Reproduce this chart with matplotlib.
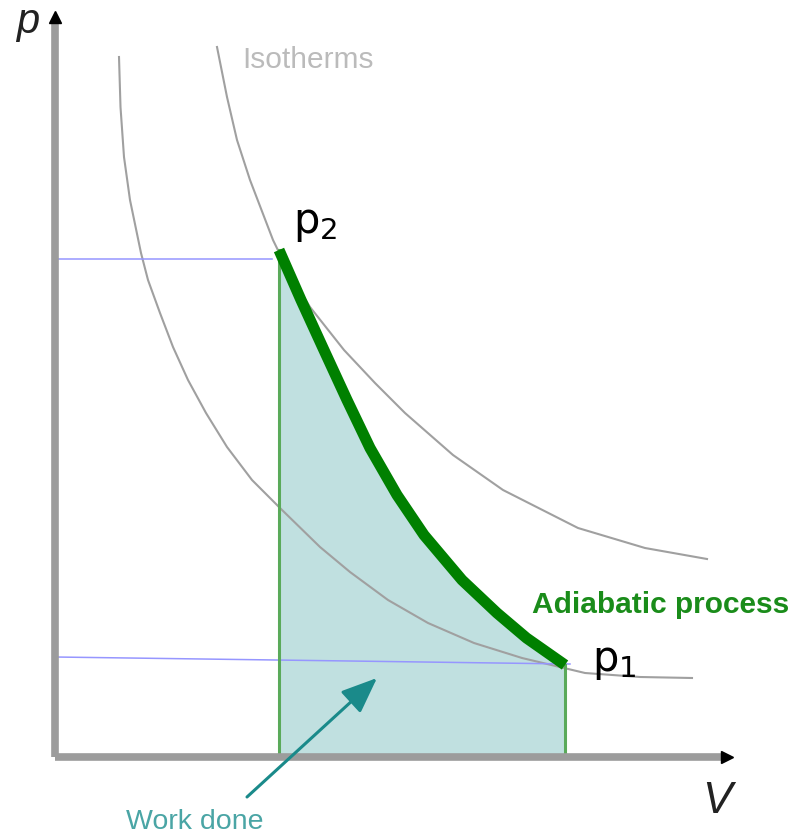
import matplotlib
matplotlib.use("Agg")
import matplotlib.pyplot as plt

plt.rcParams['mathtext.fontset'] = 'custom'
plt.rcParams['mathtext.rm'] = 'Liberation Sans'
plt.rcParams['mathtext.it'] = 'Liberation Sans:italic'

# ---- data (V, p in arbitrary units) ----
inner_iso_V = [0.64, 0.655, 0.69, 0.75, 0.86, 0.93, 1.05, 1.18, 1.33, 1.51, 1.72, 1.97,
               2.25, 2.65, 2.95, 3.33, 3.73, 4.19, 4.67, 5.30, 5.85, 6.37]
inner_iso_p = [7.00, 6.50, 6.00, 5.57, 5.04, 4.77, 4.44, 4.10, 3.77, 3.44, 3.10, 2.77,
               2.49, 2.10, 1.85, 1.57, 1.34, 1.14, 0.99, 0.84, 0.80, 0.79]

outer_iso_V = [1.62, 1.72, 1.82, 1.95, 2.18, 2.35, 2.55, 2.89, 3.20, 3.50, 3.98, 4.48,
               5.23, 5.90, 6.52]
outer_iso_p = [7.10, 6.60, 6.17, 5.77, 5.17, 4.82, 4.50, 4.07, 3.74, 3.44, 3.02, 2.67,
               2.29, 2.09, 1.98]

adiabat_V = [2.24, 2.46, 2.68, 2.92, 3.15, 3.42, 3.69, 4.07, 4.42, 4.715, 5.10]
adiabat_p = [5.07, 4.57, 4.09, 3.57, 3.09, 2.62, 2.22, 1.77, 1.44, 1.19, 0.92]

guide_p2 = 4.98
guide_p2_end = 2.17
guide_p1_left = 1.00
guide_p1_right = 0.93
guide_p1_end = 5.15

axis_V_max = 6.72
axis_p_max = 7.40

labels = {
    'p_axis': 'p', 'V_axis': 'V', 'iso': 'Isotherms',
    'adiabat': 'Adiabatic process', 'work': 'Work done',
    'p2': r'$\mathregular{p_2}$', 'p1': r'$\mathregular{p_1}$',
}

# ---- figure ----
fig = plt.figure(figsize=(7.92, 8.36), dpi=100)
ax = fig.add_axes([0, 0, 1, 1])
ax.set_xlim(-0.55, 7.37)
ax.set_ylim(-0.79, 7.57)
ax.axis('off')

# work area
ax.fill_between(adiabat_V, 0, adiabat_p, color='#c0e0e0', lw=0, zorder=1)

# isotherms
ax.plot(inner_iso_V, inner_iso_p, color='#a0a0a0', lw=1.5, zorder=2,
        solid_joinstyle='round')
ax.plot(outer_iso_V, outer_iso_p, color='#a0a0a0', lw=1.5, zorder=2,
        solid_joinstyle='round')

# guide lines
ax.plot([0, guide_p2_end], [guide_p2, guide_p2], color='#9696ff', lw=1.1, zorder=3)
ax.plot([0, guide_p1_end], [guide_p1_left, guide_p1_right], color='#9696ff', lw=1.1, zorder=3)

# verticals
ax.plot([adiabat_V[0], adiabat_V[0]], [0, adiabat_p[0]], color='#5aaa5a', lw=2.2, zorder=3)
ax.plot([adiabat_V[-1], adiabat_V[-1]], [0, adiabat_p[-1]], color='#5aaa5a', lw=2.2, zorder=3)

# adiabat
ax.plot(adiabat_V, adiabat_p, color='#008000', lw=8, solid_capstyle='butt',
        solid_joinstyle='round', zorder=4)

# axes
ax.plot([0, 0], [0, axis_p_max - 0.05], color='#9c9c9c', lw=5.5, solid_capstyle='butt', zorder=5)
ax.plot([0, axis_V_max - 0.05], [0, 0], color='#9c9c9c', lw=5.5, solid_capstyle='butt', zorder=5)
ax.plot([0], [axis_p_max], marker='^', color='black', markersize=9, zorder=6)
ax.plot([axis_V_max], [0], marker='>', color='black', markersize=9, zorder=6)

# texts
ax.text(-0.39, 7.24, labels['p_axis'], fontsize=30, style='italic',
        family='Liberation Sans', color='#222222', ha='left', va='baseline')
ax.text(6.47, -0.56, labels['V_axis'], fontsize=32, style='italic',
        family='Liberation Sans', color='#222222', ha='left', va='baseline')
ax.text(1.87, 6.89, labels['iso'], fontsize=21.5, family='Liberation Sans',
        color='#bbbbbb', ha='left', va='baseline')
ax.text(4.77, 1.44, labels['adiabat'], fontsize=21.5, fontweight='bold',
        family='Liberation Sans', color='#1a8c1a', ha='left', va='baseline')
ax.text(2.38, 5.24, labels['p2'], fontsize=30, color='black', ha='left', va='baseline')
ax.text(5.37, 0.86, labels['p1'], fontsize=30, color='black', ha='left', va='baseline')
ax.text(0.71, -0.72, labels['work'], fontsize=20.5, family='Liberation Sans',
        color='#4aa5a5', ha='left', va='baseline')

ax.annotate('', xy=(3.22, 0.79), xytext=(1.92, -0.40),
            arrowprops=dict(arrowstyle='-|>,head_length=1.1,head_width=0.45',
                            mutation_scale=20, color='#1a8a8a', lw=2.2,
                            shrinkA=0, shrinkB=0), zorder=7)

fig.savefig('out.png', dpi=100)
